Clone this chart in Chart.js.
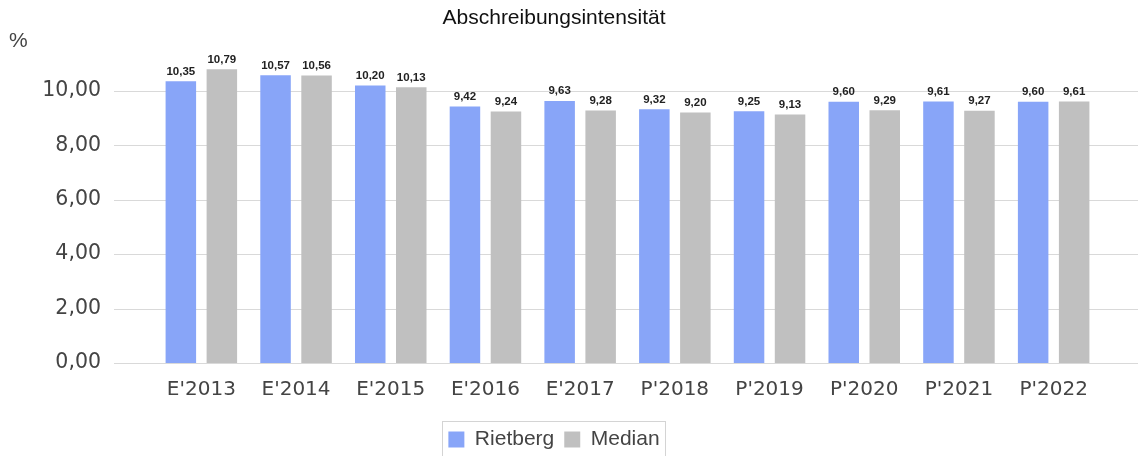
<!DOCTYPE html>
<html>
<head>
<meta charset="utf-8">
<script src="https://cdn.jsdelivr.net/npm/chart.js@4.4.1/dist/chart.umd.min.js"></script>
<style>
  html, body { margin: 0; padding: 0; background: #ffffff; }
  #wrap { width: 1138px; height: 456px; position: relative; }
</style>
</head>
<body>
<div id="wrap"><canvas id="c"></canvas></div>
<script>
const categories = ["E'2013", "E'2014", "E'2015", "E'2016", "E'2017", "P'2018", "P'2019", "P'2020", "P'2021", "P'2022"];
const rietbergValues = [10.35, 10.57, 10.20, 9.42, 9.63, 9.32, 9.25, 9.60, 9.61, 9.60];
const medianValues = [10.79, 10.56, 10.13, 9.24, 9.28, 9.20, 9.13, 9.29, 9.27, 9.61];
const seriesNames = ["Rietberg", "Median"];
const yTickValues = [0, 2, 4, 6, 8, 10];
const chartTitle = "Abschreibungsintensität";
const unitLabel = "%";

const fmt = v => v.toFixed(2).replace('.', ',');

const gridPlugin = {
  id: 'extGrid',
  beforeDatasetsDraw(chart) {
    const ctx = chart.ctx;
    const y = chart.scales.y;
    ctx.save();
    ctx.strokeStyle = '#d9d9d9';
    ctx.lineWidth = 1;
    yTickValues.forEach(v => {
      const py = Math.round(y.getPixelForValue(v)) + 0.5;
      ctx.beginPath();
      ctx.moveTo(114, py);
      ctx.lineTo(chart.width, py);
      ctx.stroke();
    });
    ctx.restore();
  }
};

const labelPlugin = {
  id: 'valueLabels',
  afterDatasetsDraw(chart) {
    const ctx = chart.ctx;
    ctx.save();
    ctx.font = 'bold 11.5px "Liberation Sans", Arial, sans-serif';
    ctx.fillStyle = '#222222';
    ctx.textAlign = 'center';
    ctx.textBaseline = 'bottom';
    chart.data.datasets.forEach((ds, di) => {
      const meta = chart.getDatasetMeta(di);
      meta.data.forEach((el, i) => {
        ctx.fillText(fmt(ds.data[i]), el.x, el.y - 4);
      });
    });
    ctx.font = '21px "Liberation Sans", Arial, sans-serif';
    ctx.fillStyle = '#444444';
    ctx.textAlign = 'left';
    ctx.textBaseline = 'middle';
    ctx.fillText(unitLabel, 9, 41);
    ctx.restore();
  }
};

const legendBoxPlugin = {
  id: 'legendBox',
  afterDraw(chart) {
    const lg = chart.legend;
    if (!lg || !lg.legendHitBoxes || !lg.legendHitBoxes.length) return;
    const hb = lg.legendHitBoxes;
    const left = Math.min(...hb.map(h => h.left)) - 6;
    const right = Math.max(...hb.map(h => h.left + h.width)) + 6;
    const ctx = chart.ctx;
    ctx.save();
    ctx.strokeStyle = '#d4d4d4';
    ctx.lineWidth = 1;
    ctx.strokeRect(Math.round(left) + 0.5, 421.5, Math.round(right - left), 60);
    ctx.restore();
  }
};

new Chart(document.getElementById('c'), {
  type: 'bar',
  data: {
    labels: categories,
    datasets: [
      { label: seriesNames[0], data: rietbergValues, backgroundColor: '#88a5f8', borderWidth: 0 },
      { label: seriesNames[1], data: medianValues, backgroundColor: '#c0c0c0', borderWidth: 0 }
    ]
  },
  options: {
    responsive: true,
    maintainAspectRatio: false,
    animation: false,
    layout: { padding: { left: 7, right: 37, top: 0, bottom: -4 } },
    datasets: { bar: { categoryPercentage: 0.866, barPercentage: 0.744 } },
    plugins: {
      tooltip: { enabled: false },
      title: {
        display: true,
        text: chartTitle,
        color: '#111111',
        font: { family: '"Liberation Sans", Arial, sans-serif', size: 21, weight: 'normal', lineHeight: 1.2 },
        padding: { top: 6, bottom: 5.2 }
      },
      legend: {
        position: 'bottom',
        labels: {
          boxWidth: 16,
          boxHeight: 16,
          padding: 10,
          color: '#444444',
          font: { family: '"Liberation Sans", Arial, sans-serif', size: 21 }
        }
      }
    },
    scales: {
      x: {
        grid: { display: false, drawTicks: false },
        border: { display: false },
        ticks: {
          color: '#444444',
          padding: 15,
          font: { family: '"DejaVu Sans", sans-serif', size: 20 },
          maxRotation: 0
        },
        afterFit(scale) { scale.height = 56; scale.paddingLeft = 0; scale.paddingRight = 0; }
      },
      y: {
        min: 0,
        max: 12,
        grid: { display: false, drawTicks: false },
        border: { display: false },
        ticks: {
          stepSize: 2,
          padding: 53,
          color: '#444444',
          font: { family: '"DejaVu Sans", sans-serif', size: 20.5 },
          callback: v => (yTickValues.includes(v) ? fmt(v) : '')
        },
        afterFit(scale) { scale.width = 147; scale.paddingTop = 0; scale.paddingBottom = 0; }
      }
    }
  },
  plugins: [gridPlugin, labelPlugin, legendBoxPlugin]
});
</script>
</body>
</html>
